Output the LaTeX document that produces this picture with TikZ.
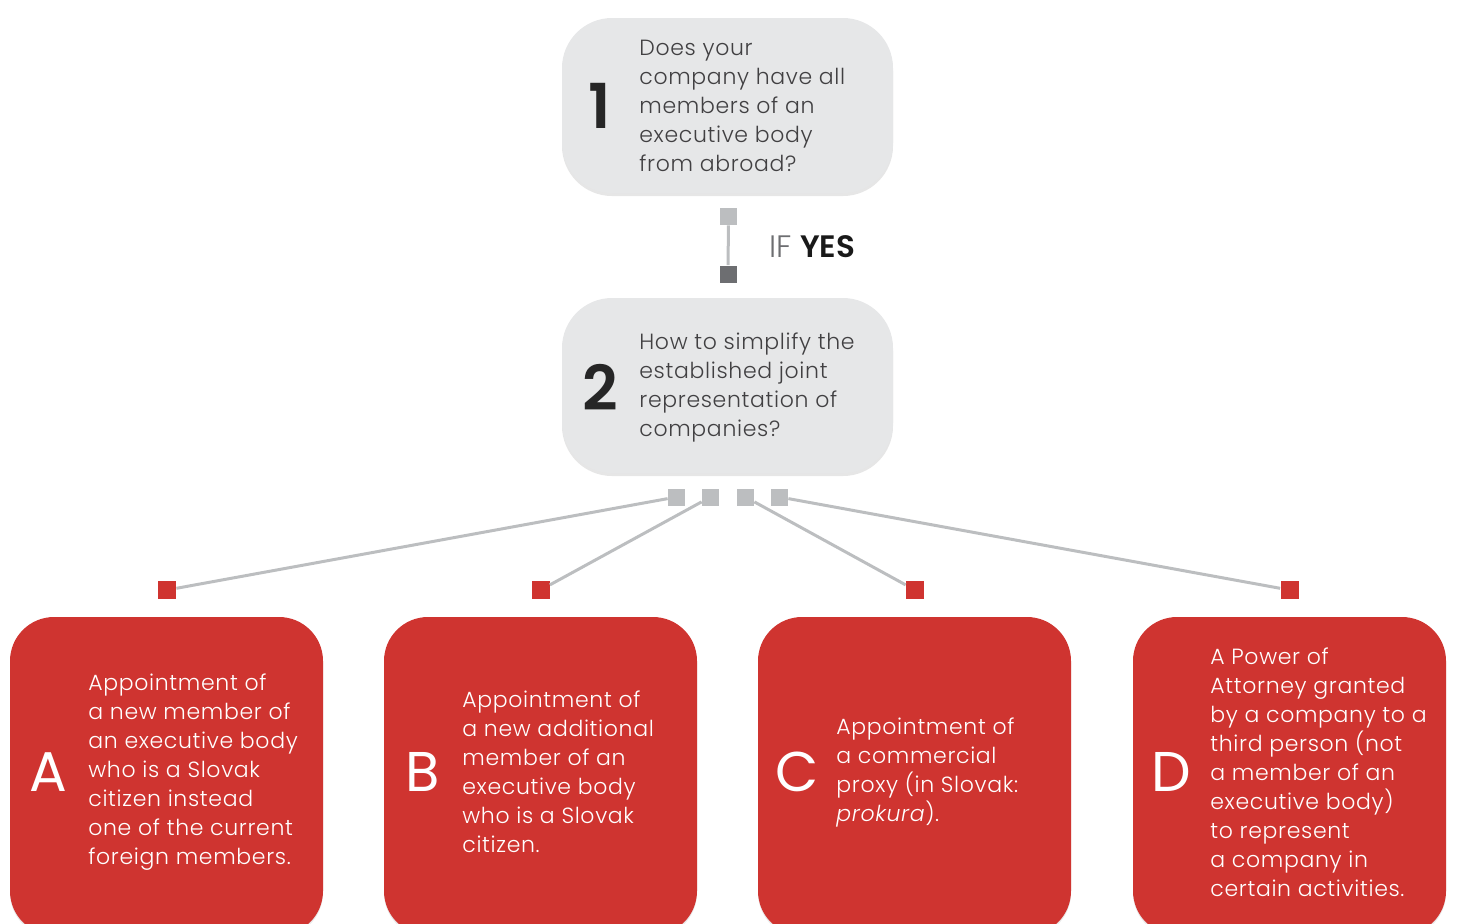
\documentclass[tikz,border=0pt]{standalone}
\usepackage{fontspec}
\setmainfont{Poppins}[UprightFont={* Light}, ItalicFont={* Light Italic}, BoldFont={* SemiBold}]
\newfontfamily\letterfont{Poppins}
\usetikzlibrary{positioning, shadows}
\definecolor{boxgray}{HTML}{E6E7E8}
\definecolor{linegray}{HTML}{BCBEC0}
\definecolor{darksq}{HTML}{6D6E71}
\definecolor{boxred}{HTML}{CF3430}
\definecolor{textgray}{HTML}{414042}
\tikzset{question/.style = {
  % Rectangle:
  rectangle, rounded corners=25pt,
  fill=boxgray,
  minimum width=165.5pt, minimum height=87.5pt,
  drop shadow={opacity=0.2, shadow xshift=0pt, shadow yshift=-1.5pt}
  }}
\tikzset{answer/.style = {
  % Rectangle:
  rectangle, rounded corners=22pt,
  fill=boxred,
  minimum width=156.5pt, minimum height=159pt,
  drop shadow={opacity=0.18, shadow xshift=0pt, shadow yshift=-1pt}
  }}
\tikzset{qtext/.style = {
  % Text
  anchor=west, align=left, inner sep=0pt,
  text=textgray,
  font=\fontsize{11}{14.5}\selectfont\addfontfeatures{LetterSpace=3}
  }}
\tikzset{atext/.style = {
  qtext,
  text=white
  }}
\tikzset{qnum/.style = {
  text=black!85, inner sep=0pt,
  font=\fontsize{31}{31}\selectfont\bfseries
  }}
\tikzset{anum/.style = {
  text=white, inner sep=0pt,
  font=\fontsize{28}{28}\letterfont\selectfont
  }}
\tikzset{knob/.style = {
  rectangle, inner sep=0pt,
  minimum size=8.5pt,
  fill=#1
  }}
\tikzset{link/.style = {
  draw=linegray,
  line width=1.5pt
  }}

\begin{document}
\begin{tikzpicture}[x=0.5pt, y=-0.5pt]
\useasboundingbox (0,0) rectangle (1457,923);
\clip (0,0) rectangle (1457,923);

% QUESTIONS
\node (q1) [question] at (727.5,105.5) {};
\node (n1) [qnum] at (600,106) {1};
\node (t1) [qtext] at (639,106) {Does your\\company have all\\members of an\\executive body\\from abroad?};

\node (q2) [question] at (727.5,385.5) {};
\node (n2) [qnum] at (600,387) {2};
\node (t2) [qtext] at (639,387) {How to simplify the\\established joint\\representation of\\companies?};

\node (yes) [anchor=base west, inner sep=0pt, font=\fontsize{15.5}{15.5}\selectfont] at (769,257)
  {\textcolor{darksq}{IF} \textcolor{black!90}{\bfseries YES}};

% ANSWERS
\node (ra) [answer] at (166.5,776) {};
\node (la) [anum] at (48,772) {A};
\node (ta) [atext] at (88,772) {Appointment of\\a new member of\\an executive body\\who is a Slovak\\citizen instead\\one of the current\\foreign members.};

\node (rb) [answer] at (540.5,776) {};
\node (lb) [anum] at (423,772) {B};
\node (tb) [atext] at (462,772) {Appointment of\\a new additional\\member of an\\executive body\\who is a Slovak\\citizen.};

\node (rc) [answer] at (914.5,776) {};
\node (lc) [anum] at (797,772) {C};
\node (tc) [atext] at (836,772) {Appointment of\\a commercial\\proxy (in Slovak:\\\emph{prokura}).};

\node (rd) [answer] at (1289.5,776) {};
\node (ld) [anum] at (1171,772) {D};
\node (td) [atext] at (1210,772) {A Power of\\Attorney granted\\by a company to a\\third person (not\\a member of an\\executive body)\\to represent\\a company in\\certain activities.};

% knobs
\node (k1) [knob=linegray] at (728.5,216.5) {};
\node (k2) [knob=darksq] at (728,274) {};

\node (s1) [knob=linegray] at (676.5,497) {};
\node (s2) [knob=linegray] at (710.5,497) {};
\node (s3) [knob=linegray] at (745.5,497) {};
\node (s4) [knob=linegray] at (779.5,497) {};

\node (ka) [knob=boxred, minimum size=9pt] at (167,590) {};
\node (kb) [knob=boxred, minimum size=9pt] at (540.5,590) {};
\node (kc) [knob=boxred, minimum size=9pt] at (915,590) {};
\node (kd) [knob=boxred, minimum size=9pt] at (1289.5,590) {};

% links
\draw [link] (k1) -- (k2);
\draw [link] (s1) -- (ka);
\draw [link] (s2) -- (kb);
\draw [link] (s3) -- (kc);
\draw [link] (s4) -- (kd);
\end{tikzpicture}
\end{document}
